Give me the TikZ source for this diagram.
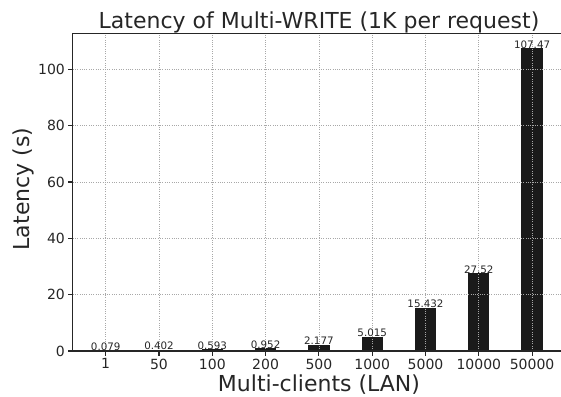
\documentclass[tikz,border=0pt]{standalone}
\usepackage{fontspec}
\setmainfont{DejaVu Sans}
\definecolor{barfill}{HTML}{1A1A1A}
\definecolor{gridgray}{HTML}{A8A8A8}
\definecolor{axiscol}{HTML}{262626}
\begin{document}
\begin{tikzpicture}[x=1pt,y=1pt,
  barrect/.style={fill=barfill, draw=none},
  gridline/.style={draw=gridgray, line width=0.8pt, dash pattern=on 0.9pt off 1.4pt},
  spine/.style={draw=axiscol, line width=1.1pt},
  tickmark/.style={draw=axiscol, line width=1.1pt},
  ticklabel/.style={font=\fontsize{14}{16}\selectfont, inner sep=0pt, text=axiscol},
  vallabel/.style={font=\fontsize{10.3}{12}\selectfont, inner sep=0pt, anchor=base, text=axiscol},
  axlabel/.style={font=\fontsize{22}{26}\selectfont, inner sep=0pt, text=axiscol}]
\useasboundingbox (0,0) rectangle (561,396);
\clip (0,0) rectangle (561,396);

% plot area in data coordinates: x = category index, y = latency in seconds
\begin{scope}[shift={(105.7,45)}, x=53.3pt, y=2.817pt]
  % frame corners of the axes
  \coordinate (ll) at (-0.62,0);
  \coordinate (lr) at (8.62,0);
  \coordinate (ul) at (-0.62,112.84);
  \coordinate (ur) at (8.62,112.84);

  % bars
  \foreach \i/\v in {0/0.079,1/0.402,2/0.593,3/0.952,4/2.177,5/5.015,6/15.432,7/27.52,8/107.47}
    \fill[barrect] (\i-0.2,0) rectangle (\i+0.2,\v);

  % grid, drawn above the bars
  \foreach \i in {0,...,8}
    \draw[gridline] (\i,0) -- (\i,112.84);
  \foreach \t in {20,40,60,80,100}
    \draw[gridline] (-0.62,\t) -- (8.62,\t);

  % value labels on top of the bars
  \foreach \i/\v in {0/0.079,1/0.402,2/0.593,3/0.952,4/2.177,5/5.015,6/15.432,7/27.52,8/107.47}
    \node[vallabel] (val\i) at (\i,\v) {\v};

  % spines
  \draw[spine] (ll) -- (lr) -- (ur) -- (ul) -- cycle;

  % x ticks and their labels
  \foreach \i/\lab in {0/1,1/50,2/100,3/200,4/500,5/1000,6/5000,7/10000,8/50000} {
    \coordinate (xt\i) at (\i,0);
    \draw[tickmark] (xt\i) -- ([yshift=-5pt]xt\i);
    \node[ticklabel, anchor=north] (xl\i) at ([yshift=-7.5pt]xt\i) {\lab};
  }

  % y ticks and their labels
  \foreach \t in {0,20,40,60,80,100} {
    \coordinate (yt\t) at (-0.62,\t);
    \draw[tickmark] (yt\t) -- ([xshift=-5pt]yt\t);
    \node[ticklabel, anchor=east] (yl\t) at ([xshift=-7.6pt]yt\t) {\t};
  }
\end{scope}

% title and axis labels
\node[axlabel, anchor=base] (title) at (319,367.7) {Latency of Multi-WRITE (1K per request)};
\node[axlabel, anchor=base] (xlabel) at (319,5) {Multi-clients (LAN)};
\node[axlabel, rotate=90] (ylabel) at (23,207) {Latency (s)};
\end{tikzpicture}
\end{document}
